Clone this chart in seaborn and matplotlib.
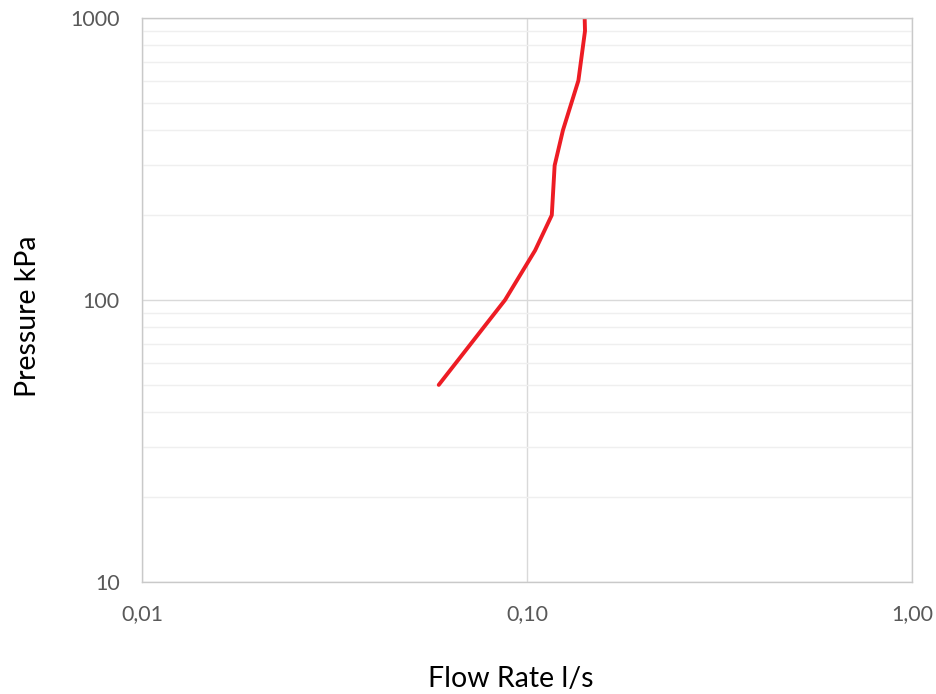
import matplotlib
matplotlib.use("Agg")
import matplotlib.pyplot as plt
from matplotlib.ticker import FixedLocator, LogLocator, NullFormatter, NullLocator
import pandas as pd
import seaborn as sns

# values
flow_rate = [0.059, 0.0877, 0.105, 0.116, 0.118, 0.124, 0.136, 0.1415, 0.1412]
pressure = [50, 100, 150, 200, 300, 400, 600, 900, 1000]

x_ticks = [0.01, 0.1, 1.0]
x_tick_labels = ["0,01", "0,10", "1,00"]
y_ticks = [10, 100, 1000]
y_tick_labels = ["10", "100", "1000"]

df = pd.DataFrame({"Flow Rate l/s": flow_rate, "Pressure kPa": pressure})

sns.set_style("white")
plt.rcParams["font.family"] = ["Lato", "DejaVu Sans"]

fig = plt.figure(figsize=(9.37, 6.94), dpi=100)
ax = fig.add_axes([0.1515, 0.1614, 0.8218, 0.8126])

sns.lineplot(data=df, x="Flow Rate l/s", y="Pressure kPa", sort=False,
             estimator=None, color="#ed1c24", linewidth=2.8, ax=ax)

ax.set_xscale("log")
ax.set_yscale("log")
ax.set_xlim(0.01, 1.0)
ax.set_ylim(10, 1000)

ax.xaxis.set_major_locator(FixedLocator(x_ticks))
ax.set_xticklabels(x_tick_labels)
ax.xaxis.set_minor_locator(NullLocator())
ax.yaxis.set_major_locator(FixedLocator(y_ticks))
ax.set_yticklabels(y_tick_labels)
ax.yaxis.set_minor_locator(LogLocator(base=10, subs=range(2, 10)))
ax.yaxis.set_minor_formatter(NullFormatter())

ax.grid(which="major", axis="both", color="#d9d9d9", linewidth=1.0)
ax.grid(which="minor", axis="y", color="#efefef", linewidth=1.0)
ax.set_axisbelow(True)

for side in ["top", "right", "bottom", "left"]:
    ax.spines[side].set_color("#c9c9c9")
    ax.spines[side].set_linewidth(1.0)

ax.tick_params(axis="x", which="both", length=0, pad=16, labelsize=15.5, labelcolor="#595959")
ax.tick_params(axis="y", which="both", length=0, pad=16, labelsize=15.5, labelcolor="#595959")

ax.set_xlabel("Flow Rate l/s", fontsize=20.5, color="#000000", labelpad=30)
ax.set_ylabel("Pressure kPa", fontsize=20.5, color="#000000", labelpad=21)
# the labels sit a little off the axes centre in the reference
ax.xaxis.label.set_x(0.479)
ax.yaxis.label.set_y(0.472)

fig.savefig("out.png", dpi=100)
